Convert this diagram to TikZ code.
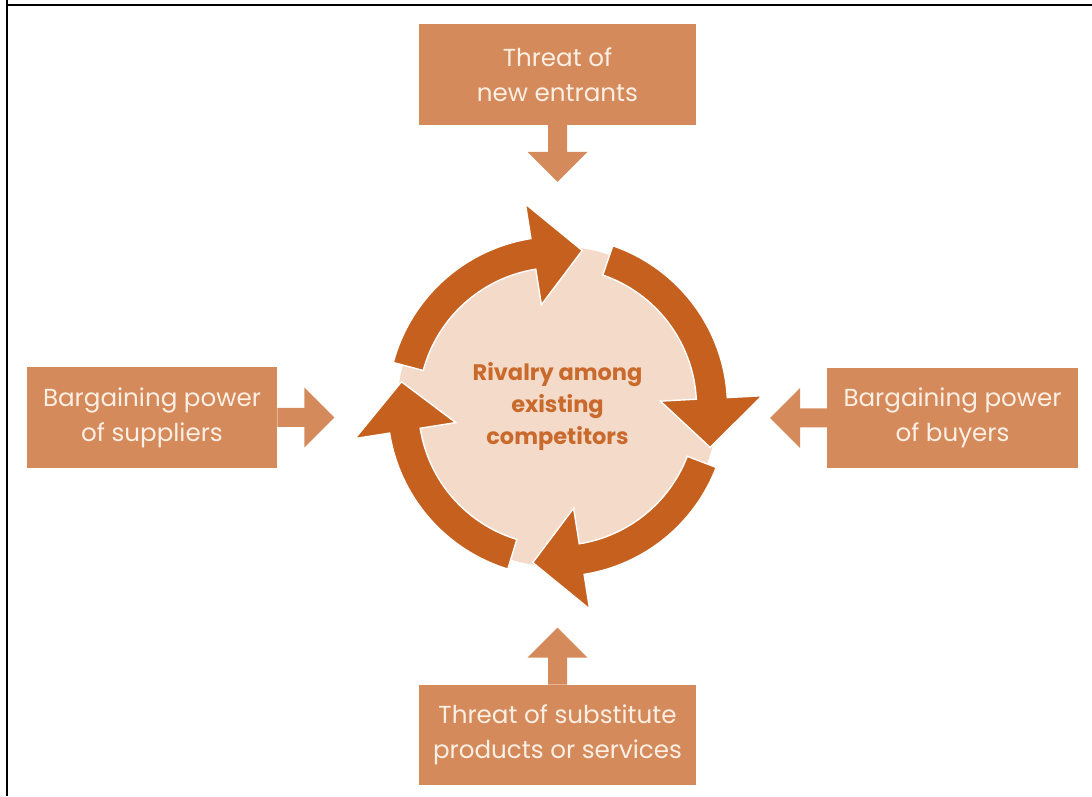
\documentclass[tikz,border=0pt]{standalone}
\usepackage{fontspec}
\setmainfont{Poppins}
\usetikzlibrary{positioning}
\definecolor{boxorange}{HTML}{D58A5B}
\definecolor{boxtext}{HTML}{FCEFE4}
\definecolor{ringorange}{HTML}{C5601F}
\definecolor{discpeach}{HTML}{F4DAC9}
\definecolor{rivaltext}{HTML}{C96A2C}
\tikzset{
  forcebox/.style={fill=boxorange,text=boxtext,align=center,minimum height=2.5cm,inner sep=0pt,font=\fontsize{17.5}{25}\selectfont},
  widebox/.style={minimum width=6.9cm},
  narrowbox/.style={minimum width=6.25cm},
}
\begin{document}
\begin{tikzpicture}[x=0.025cm,y=0.025cm]
\useasboundingbox (0,0) rectangle (1092,796);
% Only the top and left rules of the frame are printed.
\draw[black,line width=2pt] (6,791) -- (1092,791);
\draw[black,line width=2pt] (7,796) -- (7,0);
% The five forces: rivalry in the middle, one box on each side.
\node[circle,fill=discpeach,minimum size=8cm,inner sep=0pt,text=rivaltext,align=center,font=\fontsize{16}{23}\bfseries\selectfont] (rival) at (557.5,389.5) {Rivalry among\\existing\\competitors};
\node[forcebox,widebox] (entrants) at (557.5,721.5) {Threat of\\new entrants};
\node[forcebox,narrowbox] (suppliers) at (152,378.5) {Bargaining power\\of suppliers};
\node[forcebox,narrowbox] (buyers) at (952.5,378) {Bargaining power\\of buyers};
\node[forcebox,widebox] (substitutes) at (557.5,61) {Threat of substitute\\products or services};
% Block arrows pointing from each box towards the rivalry circle.
\foreach \force/\side/\turn in {entrants/south/-90,suppliers/east/0,buyers/west/180,substitutes/north/90}{
  \fill[boxorange,shift={(\force.\side)},rotate=\turn] (0,-9.5) -- (27,-9.5) -- (27,-30) -- (57,0) -- (27,30) -- (27,9.5) -- (0,9.5) -- cycle;
}
% Four clockwise ring arrows round the disc.
\foreach \tail/\base/\tip in {165/99/81,71/3/-15,-21/-81/-99,-107/-171/-189}{
  \filldraw[fill=ringorange,draw=white,line width=1pt,shift={(rival.center)}] (\tail:170) arc[start angle=\tail,end angle=\base,radius=170] -- (\base:205) -- (\tip:158) -- (\base:103) -- (\base:139) arc[start angle=\base,end angle=\tail,radius=139] -- cycle;
}
\end{tikzpicture}
\end{document}
